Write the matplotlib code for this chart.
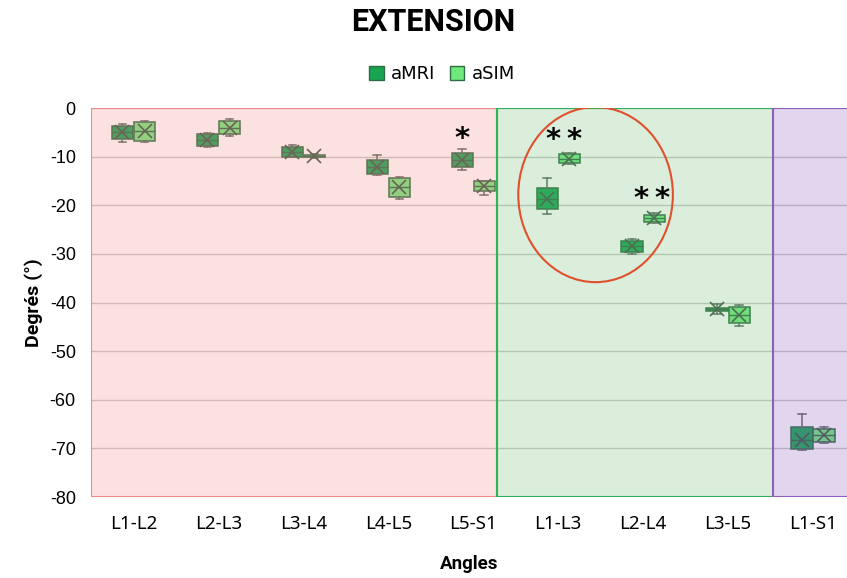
import matplotlib.pyplot as plt
from matplotlib.patches import Ellipse, Patch

plt.rcParams['axes.unicode_minus'] = False

# Catégories (angles intervertébraux)
angles = ['L1-L2', 'L2-L3', 'L3-L4', 'L4-L5', 'L5-S1', 'L1-L3', 'L2-L4', 'L3-L5', 'L1-S1']

# Statistiques : min, Q1, médiane, Q3, max, moyenne
amri_min = [-6.9, -8.0, -10.1, -13.7, -12.8, -21.8, -30.0, -42.4, -70.4]
amri_q1 = [-6.4, -7.8, -10.0, -13.6, -12.1, -20.8, -29.6, -41.8, -70.2]
amri_med = [-5.0, -6.6, -9.0, -12.1, -10.7, -18.6, -28.4, -41.4, -68.3]
amri_q3 = [-3.7, -5.4, -8.0, -10.7, -9.2, -16.4, -27.4, -41.1, -65.6]
amri_max = [-3.3, -5.2, -7.5, -9.7, -8.5, -14.3, -27.0, -40.3, -63.0]
amri_mean = [-5.0, -6.6, -9.0, -12.1, -10.7, -18.7, -28.4, -41.4, -68.3]

asim_min = [-7.0, -5.7, -10.2, -18.6, -17.8, -11.4, -23.6, -44.8, -68.8]
asim_q1 = [-6.8, -5.4, -10.1, -18.2, -17.0, -11.3, -23.4, -44.2, -68.7]
asim_med = [-4.7, -4.0, -9.9, -16.3, -16.0, -10.4, -22.6, -42.5, -67.3]
asim_q3 = [-2.9, -2.6, -9.6, -14.3, -15.0, -9.5, -21.9, -40.9, -66.0]
asim_max = [-2.7, -2.3, -9.5, -14.1, -14.9, -9.2, -21.5, -40.5, -65.6]
asim_mean = [-4.7, -4.0, -9.9, -16.3, -16.0, -10.4, -22.6, -42.5, -67.3]

# Zones de fond (limites en unités de catégorie)
zone_edges = [-0.5, 4.28, 7.53, 8.6]
zone_fill = ['#f78b8b', '#73bf73', '#8f5fbf']
zone_line = ['#f08888', '#2db35a', '#9060c0']

# Significativité
sig_x = [3.87, 5.07, 6.1]
sig_y = [-6.4, -6.6, -18.6]
sig_txt = ['*', '*\u2009*', '*\u2009*']

C_MRI = '#18a552'
C_SIM = '#6ee87a'
C_EDGE = '#2f6b45'


def make_stats(mn, q1, med, q3, mx, mean):
    return [dict(whislo=a, q1=b, med=c, q3=d, whishi=e, mean=f, fliers=[])
            for a, b, c, d, e, f in zip(mn, q1, med, q3, mx, mean)]


fig = plt.figure(figsize=(8.47, 5.78), dpi=100)
ax = fig.add_axes([0.1075, 0.140, 0.8925, 0.673])

pos = list(range(len(angles)))
off, w = 0.13, 0.25
for stats, color, dx in [(make_stats(amri_min, amri_q1, amri_med, amri_q3, amri_max, amri_mean), C_MRI, -off),
                         (make_stats(asim_min, asim_q1, asim_med, asim_q3, asim_max, asim_mean), C_SIM, off)]:
    ax.bxp(stats, positions=[p + dx for p in pos], widths=w, capwidths=0.09,
           showmeans=True, showfliers=False, patch_artist=True,
           boxprops=dict(facecolor=color, edgecolor=C_EDGE, linewidth=1.1),
           whiskerprops=dict(color='#5a6a60', linewidth=1.1),
           capprops=dict(color='#5a6a60', linewidth=1.1),
           medianprops=dict(color=C_EDGE, linewidth=1.0),
           meanprops=dict(marker='x', markersize=10, markeredgewidth=1.2,
                          markeredgecolor='#3d5646'),
           zorder=2)

# Fonds colorés semi-transparents par-dessus les boîtes
for i in range(3):
    ax.axvspan(zone_edges[i], zone_edges[i + 1], facecolor=zone_fill[i], alpha=0.25,
               edgecolor='none', zorder=3)
    ax.axvspan(zone_edges[i], zone_edges[i + 1], facecolor='none',
               edgecolor=zone_line[i], linewidth=1.5, zorder=4)

ax.add_patch(Ellipse((5.44, -17.8), 1.82, 36.0, facecolor='none',
                     edgecolor='#e0502f', linewidth=1.5, zorder=5))

for x, y, t in zip(sig_x, sig_y, sig_txt):
    ax.text(x, y, t, ha='center', va='center', fontsize=21, fontweight='bold',
            color='black', zorder=6)

ax.set_xlim(-0.5, 8.4)
ax.set_ylim(-80, 0)
ax.set_yticks(range(-80, 1, 10))
ax.set_xticks(pos)
ax.set_xticklabels(angles, fontsize=13.5, family='Noto Sans')
for lab in ax.get_yticklabels():
    lab.set_fontsize(13)
    lab.set_family('Liberation Sans')
ax.tick_params(axis='y', length=0, pad=11)
ax.tick_params(axis='x', length=0, pad=13)
ax.grid(axis='y', color='#c8c8c8', linewidth=1, zorder=0)
ax.set_axisbelow(True)
for s in ax.spines.values():
    s.set_visible(False)

ax.set_ylabel('Degrés (°)', fontsize=14, fontweight='bold', family='Roboto', labelpad=5)
ax.set_xlabel('Angles', fontsize=13.5, fontweight='bold', family='Roboto', labelpad=16)

fig.suptitle('EXTENSION', x=0.511, y=0.962, va='center', fontsize=22,
             fontweight='bold', family='Roboto')
handles = [Patch(facecolor=C_MRI, edgecolor=C_EDGE, label='aMRI'),
           Patch(facecolor=C_SIM, edgecolor=C_EDGE, label='aSIM')]
fig.legend(handles=handles, loc='center', bbox_to_anchor=(0.522, 0.872), ncol=2,
           frameon=False, fontsize=13, handlelength=0.8, handleheight=0.8,
           handletextpad=0.4, columnspacing=0.8)

fig.savefig('out.png', dpi=100)
